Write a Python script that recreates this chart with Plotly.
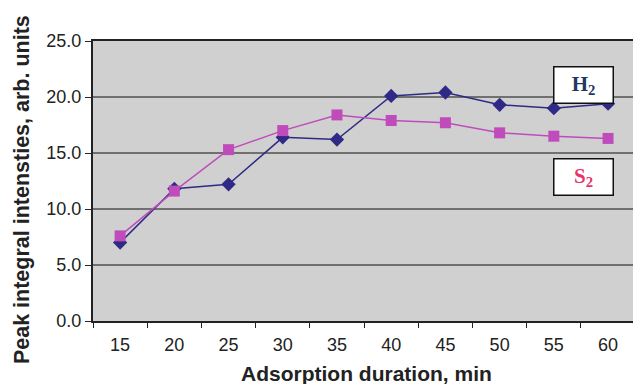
import plotly.graph_objects as go

durations = ["15", "20", "25", "30", "35", "40", "45", "50", "55", "60"]
h2_values = [7.0, 11.8, 12.2, 16.4, 16.2, 20.1, 20.4, 19.3, 19.0, 19.4]
s2_values = [7.6, 11.6, 15.3, 17.0, 18.4, 17.9, 17.7, 16.8, 16.5, 16.3]

fig = go.Figure()
fig.add_trace(go.Scatter(
    x=durations, y=h2_values, mode="lines+markers", name="H2",
    line=dict(color="#2E2A86", width=1.5),
    marker=dict(symbol="diamond", size=11, color="#2E2A86"),
))
fig.add_trace(go.Scatter(
    x=durations, y=s2_values, mode="lines+markers", name="S2",
    line=dict(color="#C04CBC", width=1.5),
    marker=dict(symbol="square", size=11, color="#C04CBC"),
))

fig.add_annotation(x=8.54, y=21.1, xref="x", yref="y", showarrow=False,
                   text="<b>H<sub>2</sub></b>",
                   font=dict(family="Liberation Serif", size=21, color="#1F3864"),
                   bgcolor="white", bordercolor="#111111", borderwidth=1.5,
                   width=56, height=33)
fig.add_annotation(x=8.54, y=12.85, xref="x", yref="y", showarrow=False,
                   text="<b>S<sub>2</sub></b>",
                   font=dict(family="Liberation Serif", size=21, color="#E8336B"),
                   bgcolor="white", bordercolor="#111111", borderwidth=1.5,
                   width=56, height=33)

# axis titles
fig.add_annotation(x=0.5056, y=-0.189, xref="paper", yref="paper", showarrow=False,
                   xanchor="center", yanchor="middle",
                   text="<b>Adsorption duration, min</b>",
                   font=dict(family="Liberation Sans", size=21, color="#222222"))
fig.add_annotation(x=-0.1315, y=0.471, xref="paper", yref="paper", showarrow=False,
                   xanchor="center", yanchor="middle", textangle=-90,
                   text="<b>Peak integral intensties, arb. units</b>",
                   font=dict(family="Liberation Sans", size=21.5, color="#222222"))

fig.update_layout(
    width=633, height=384,
    margin=dict(l=93, r=0, t=41, b=63),
    paper_bgcolor="white", plot_bgcolor="#D0D0D0",
    showlegend=False,
    font=dict(family="Liberation Sans", size=18, color="#222222"),
)
fig.update_xaxes(
    type="category", range=[-0.5, 9.46], tickson="boundaries",
    ticks="outside", ticklen=5, tickcolor="#222222",
    tickfont=dict(size=18), ticklabelstandoff=6,
    showline=True, linecolor="#222222", linewidth=2, mirror=True,
    showgrid=False, zeroline=False,
)
fig.update_yaxes(
    range=[0, 25], dtick=5, tickformat=".1f",
    ticks="outside", ticklen=6, tickcolor="#222222",
    tickfont=dict(size=18),
    showline=True, linecolor="#222222", linewidth=2,
    showgrid=True, gridcolor="#707070", gridwidth=1.5, zeroline=False,
)

fig.write_html("out.html", config={"displayModeBar": False},
               post_script="document.body.style.margin='0';document.body.style.overflow='hidden';")
